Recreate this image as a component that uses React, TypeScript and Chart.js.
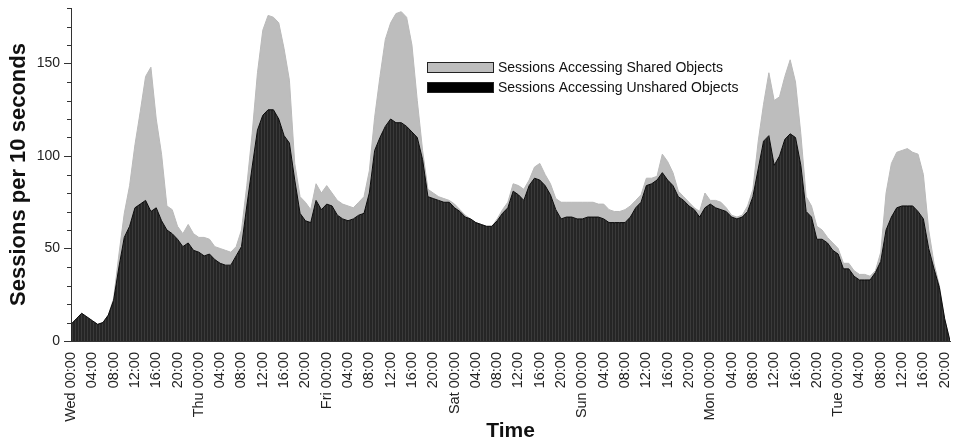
import React, { useEffect, useRef } from 'react';
import { Chart, registerables } from 'chart.js';

Chart.register(...registerables);

// Day names for the time axis (hour 0 = Wed 00:00)
const dayNames = ['Wed', 'Thu', 'Fri', 'Sat', 'Sun', 'Mon', 'Tue'];

// Hourly values, hour 0 .. 165
const unsharedSessions = [
  9, 12, 15, 13, 11, 9, 10, 14, 22, 40,
  56, 62, 72, 74, 76, 70, 72, 65, 60, 58,
  55, 51, 53, 49, 48, 46, 47, 44, 42, 41,
  41, 46, 51, 73, 94, 114, 122, 125, 125, 120,
  111, 107, 87, 69, 65, 64, 76, 71, 74, 73,
  68, 66, 65, 66, 68, 69, 80, 103, 110, 116,
  120, 118, 118, 116, 113, 110, 98, 78, 77, 76,
  75, 75, 72, 70, 67, 66, 64, 63, 62, 62,
  65, 69, 72, 81, 79, 76, 84, 88, 87, 84,
  79, 71, 66, 67, 67, 66, 66, 67, 67, 67,
  66, 64, 64, 64, 64, 67, 72, 75, 84, 85,
  87, 91, 87, 84, 78, 76, 73, 71, 67, 72,
  74, 72, 71, 70, 67, 66, 67, 70, 78, 93,
  108, 111, 95, 100, 109, 112, 110, 95, 70, 67,
  55, 55, 53, 49, 47, 39, 39, 35, 33, 33,
  33, 37, 43, 60, 67, 72, 73, 73, 73, 70,
  66, 50, 39, 29, 12, 0,
];

// Top of the grey band (unshared + shared sessions)
const totalSessions = [
  9, 12, 15, 13, 11, 9, 10, 14, 23, 47,
  69, 84, 106, 124, 143, 148, 120, 101, 73, 71,
  62, 58, 63, 58, 56, 56, 55, 51, 50, 49,
  48, 51, 60, 84, 112, 145, 168, 176, 175, 172,
  158, 141, 96, 78, 75, 71, 85, 80, 84, 80,
  76, 74, 73, 72, 75, 78, 92, 121, 143, 163,
  172, 177, 178, 175, 160, 130, 103, 82, 80, 78,
  77, 76, 74, 71, 68, 66, 64, 63, 62, 62,
  66, 71, 75, 85, 84, 82, 87, 94, 96, 90,
  85, 77, 75, 75, 75, 75, 75, 75, 75, 74,
  74, 71, 70, 70, 71, 73, 76, 79, 88, 88,
  89, 101, 97, 91, 81, 78, 75, 72, 70, 80,
  76, 76, 75, 72, 68, 67, 68, 73, 82, 108,
  128, 145, 130, 132, 143, 152, 140, 112, 78, 73,
  62, 60, 56, 53, 50, 42, 42, 38, 36, 36,
  35, 38, 48, 80, 96, 102, 103, 104, 102, 101,
  90, 60, 42, 30, 12, 0,
];

const legendLabels = ['Sessions Accessing Shared Objects', 'Sessions Accessing Unshared Objects'];
const yMinorStep = 10;

const FONT = "'Liberation Sans', Arial, Helvetica, sans-serif";

export default function App() {
  const ref = useRef<HTMLCanvasElement>(null);

  useEffect(() => {
    const canvas = ref.current;
    if (!canvas) return;
    const ctx = canvas.getContext('2d');
    if (!ctx) return;

    const pat = document.createElement('canvas');
    pat.width = 3;
    pat.height = 1;
    const pctx = pat.getContext('2d')!;
    pctx.fillStyle = '#252525';
    pctx.fillRect(0, 0, 3, 1);
    pctx.fillStyle = '#3a3a3a';
    pctx.fillRect(0, 0, 1, 1);
    const stripes = ctx.createPattern(pat, 'repeat') || '#2a2a2a';

    const minorTicks = {
      id: 'minorTicks',
      afterDraw(chart: any) {
        const y = chart.scales.y;
        const x0 = chart.chartArea.left;
        const c = chart.ctx;
        c.save();
        c.strokeStyle = '#333';
        c.lineWidth = 1;
        c.beginPath();
        for (let v = y.min; v <= y.max; v += yMinorStep) {
          if (v % 50 === 0) continue;
          const py = Math.round(y.getPixelForValue(v)) + 0.5;
          c.moveTo(x0 - 4, py);
          c.lineTo(x0, py);
        }
        c.stroke();
        c.restore();
      },
    };

    const legendBox = {
      id: 'legendBox',
      afterDraw(chart: any) {
        const c = chart.ctx;
        const fills = ['#bdbdbd', '#000000'];
        c.save();
        c.font = `14px ${FONT}`;
        c.textBaseline = 'middle';
        c.textAlign = 'left';
        legendLabels.forEach((lab, i) => {
          const top = 62 + i * 20;
          c.fillStyle = fills[i];
          c.fillRect(427, top, 67, 11);
          c.strokeStyle = '#222';
          c.lineWidth = 1;
          c.strokeRect(427.5, top + 0.5, 66, 10);
          c.fillStyle = '#111';
          c.fillText(lab, 498, top + 6);
        });
        c.restore();
      },
    };

    const chart = new Chart(ctx, {
      type: 'line',
      data: {
        datasets: [
          {
            label: legendLabels[1],
            data: unsharedSessions.map((v, i) => ({ x: i, y: v })),
            borderColor: '#0a0a0a',
            borderWidth: 1,
            backgroundColor: stripes as any,
            fill: 'origin',
            pointRadius: 0,
            tension: 0,
          },
          {
            label: legendLabels[0],
            data: totalSessions.map((v, i) => ({ x: i, y: v })),
            borderColor: '#b9b9b9',
            borderWidth: 1,
            backgroundColor: '#bdbdbd',
            fill: '-1',
            pointRadius: 0,
            tension: 0,
          },
        ],
      },
      options: {
        responsive: false,
        animation: false,
        layout: { padding: { top: 8, right: 3, left: 0, bottom: 0 } },
        plugins: {
          legend: { display: false },
          tooltip: { enabled: false },
        },
        scales: {
          x: {
            type: 'linear',
            min: 0,
            max: 165,
            grid: { display: false, drawTicks: false },
            border: { display: true, color: '#333', width: 1 },
            ticks: {
              stepSize: 4,
              includeBounds: false,
              autoSkip: false,
              maxRotation: 90,
              minRotation: 90,
              padding: 11,
              color: '#222',
              font: { family: FONT, size: 14.5 },
              callback: (value: any) => {
                const h = Number(value);
                const hh = h % 24;
                const t = String(hh).padStart(2, '0') + ':00';
                return hh === 0 ? `${dayNames[Math.floor(h / 24)]} ${t}` : t;
              },
            },
            title: {
              display: true,
              text: 'Time',
              color: '#111',
              font: { family: FONT, size: 21, weight: 'bold' },
              padding: { top: 0, bottom: 0 },
            },
            afterFit: (s: any) => {
              s.height = 103;
              s.paddingLeft = 0;
              s.paddingRight = 0;
            },
          },
          y: {
            min: 0,
            max: 180,
            grid: {
              display: true,
              drawOnChartArea: false,
              drawTicks: true,
              tickLength: 7,
              tickColor: '#333',
            },
            border: { display: true, color: '#333', width: 1 },
            ticks: {
              stepSize: 50,
              includeBounds: false,
              padding: 4,
              color: '#222',
              font: { family: FONT, size: 14 },
            },
            title: {
              display: true,
              text: 'Sessions per 10 seconds',
              color: '#111',
              font: { family: FONT, size: 22, weight: 'bold' },
              padding: { top: 6, bottom: 4 },
            },
            afterFit: (s: any) => {
              s.width = 71;
              s.paddingTop = 0;
              s.paddingBottom = 0;
            },
          },
        },
      },
      plugins: [minorTicks, legendBox],
    });

    return () => chart.destroy();
  }, []);

  return (
    <div style={{ position: 'absolute', left: 0, top: 0, width: 953, height: 444, background: '#fff' }}>
      <canvas ref={ref} width={953} height={444} style={{ display: 'block' }} />
    </div>
  );
}
